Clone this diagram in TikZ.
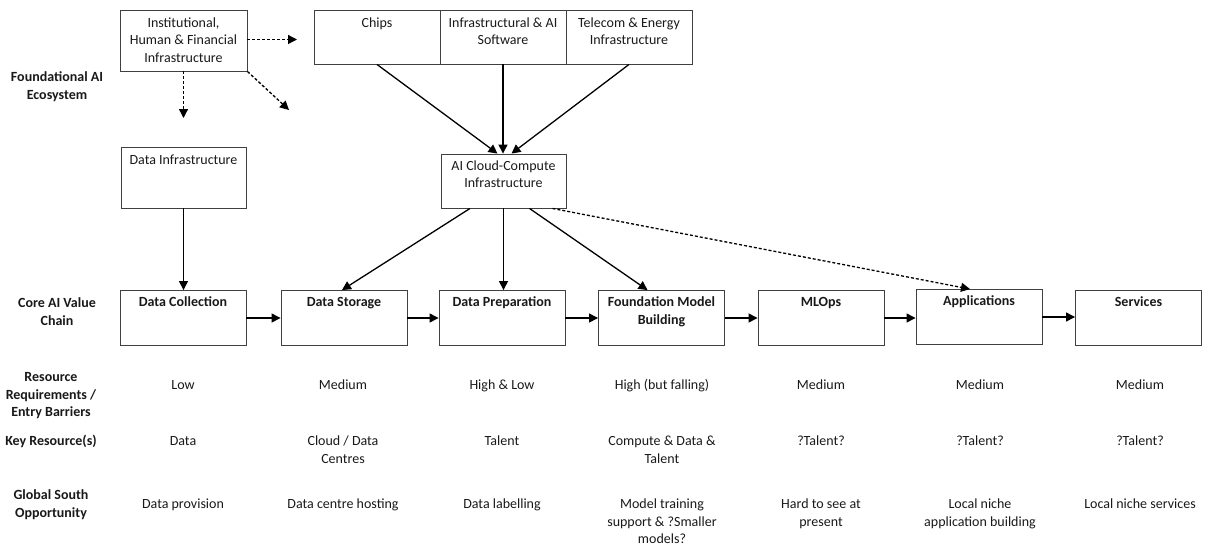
\documentclass[tikz,border=0pt]{standalone}
\usepackage{fontspec}
\setmainfont{Carlito}
\usetikzlibrary{arrows.meta,calc}
\begin{document}
\begin{tikzpicture}[x=1pt,y=-1pt,
  every node/.style={font=\fontsize{14}{17.5}\selectfont, text=black!90},
  box/.style={draw=black!75, line width=0.9pt, inner sep=0pt, minimum width=126pt, minimum height=55pt},
  txt/.style={align=center, inner sep=0pt, anchor=base},
  head/.style={txt, font=\fontsize{14}{17.5}\selectfont\bfseries},
  arr/.style={line width=1.3pt, -{Triangle[length=9pt,width=9pt]}},
  darr/.style={arr, dash pattern=on 3pt off 2pt}]
\useasboundingbox (0,0) rectangle (1211,547);
% note: for multi-line nodes the base anchor is the LAST line's baseline

% ---------- Foundational ecosystem boxes
\node[box, minimum width=127pt, minimum height=61pt] (inst) at (183.5,40.5) {};
\node[txt] (instT) at ($(inst.north)+(0,52.5)$) {Institutional,\\Human \& Financial\\Infrastructure};

\node[box, minimum height=54pt] (chips) at (377,37) {};
\node[txt] (chipsT) at ($(chips.north)+(0,17.5)$) {Chips};
\node[box, minimum height=54pt] (infra) at (503,37) {};
\node[txt] (infraT) at ($(infra.north)+(0,35)$) {Infrastructural \& AI\\Software};
\node[box, minimum height=54pt] (tele) at (629,37) {};
\node[txt] (teleT) at ($(tele.north)+(0,35)$) {Telecom \& Energy\\Infrastructure};

\node[box, minimum width=125pt, minimum height=61pt] (dinf) at (183.5,177.5) {};
\node[txt] (dinfT) at ($(dinf.north)+(0,17.5)$) {Data Infrastructure};

\node[box, minimum width=125pt, minimum height=54pt] (cloud) at (503.5,181) {};
\node[txt] (cloudT) at ($(cloud.north)+(0,34)$) {AI Cloud-Compute\\Infrastructure};

% ---------- Core value chain boxes
\node[box] (dc) at (183,318) {};
\node[box] (ds) at (344,318) {};
\node[box] (dp) at (502,318) {};
\node[box] (fm) at (661.5,318) {};
\node[box] (ml) at (821,318) {};
\node[box] (ap) at (979,317) {};
\node[box] (sv) at (1138.5,318) {};
\foreach \n/\t in {dc/Data Collection, ds/Data Storage, dp/Data Preparation, ml/MLOps, ap/Applications, sv/Services}
  \node[head] (\n T) at ($(\n.north)+(0,16.5)$) {\t};
\node[head] (fmT) at ($(fm.north)+(0,34)$) {Foundation Model\\Building};

% ---------- Row headers
\node[head] (hFound) at (57,99) {Foundational AI\\Ecosystem};
\node[head] (hCore) at (57,325) {Core AI Value\\Chain};
\node[head] (hRes) at (51,416.5) {Resource\\Requirements /\\Entry Barriers};
\node[head] (hKey) at (51,445.5) {Key Resource(s)};
\node[head] (hGS) at (51,517) {Global South\\Opportunity};

% ---------- Row values (y = baseline of last line)
\foreach \n/\x/\a/\b/\yb/\c/\yc in {
  1/183/Low/Data/445.5/Data provision/508.5,
  2/343/Medium/{Cloud / Data\\Centres}/463/Data centre hosting/508.5,
  3/502/High \& Low/Talent/445.5/Data labelling/508.5,
  4/662/High (but falling)/{Compute \& Data \&\\Talent}/463/{Model training\\support \& ?Smaller\\models?}/543.5,
  5/821/Medium/?Talent?/445.5/{Hard to see at\\present}/526,
  6/980/Medium/?Talent?/445.5/{Local niche\\application building}/526,
  7/1140/Medium/?Talent?/445.5/Local niche services/508.5}{
  \node[txt] (res\n) at (\x,389.5) {\a};
  \node[txt] (key\n) at (\x,\yb) {\b};
  \node[txt] (gs\n) at (\x,\yc) {\c};
}

% ---------- Connectors
\coordinate (d1end) at (297,39.5);
\coordinate (d2end) at (183.5,118);
\coordinate (d3end) at (289,110);
\draw[darr] (inst.east |- d1end) -- (d1end);
\draw[darr] (inst.south) -- (d2end);
\draw[darr] (inst.south east) -- (d3end);

\draw[arr] (chips.south) -- ($(cloud.north)+(-6,0)$);
\draw[arr] (infra.south) -- (infra.south |- cloud.north);
\draw[arr] (tele.south) -- ($(cloud.north)+(8,0)$);

\draw[arr] (dinf.south) -- (dinf.south |- dc.north);
\draw[arr] ($(cloud.south)+(-33.5,0)$) -- ($(ds.north)+(-2,0)$);
\draw[arr] (cloud.south) -- (cloud.south |- dp.north);
\draw[arr] ($(cloud.south)+(26,0)$) -- ($(fm.north)+(-14,0)$);
\draw[darr] ($(cloud.south)+(49,0)$) -- ($(ap.north)+(-9,0)$);

\draw[arr] (dc.east) -- (ds.west);
\draw[arr] (ds.east) -- (dp.west);
\draw[arr] (dp.east) -- (fm.west);
\draw[arr] (fm.east) -- (ml.west);
\draw[arr] (ml.east) -- (ml.east -| ap.west);
\draw[arr] (ap.east) -- (ap.east -| sv.west);
\end{tikzpicture}
\end{document}
